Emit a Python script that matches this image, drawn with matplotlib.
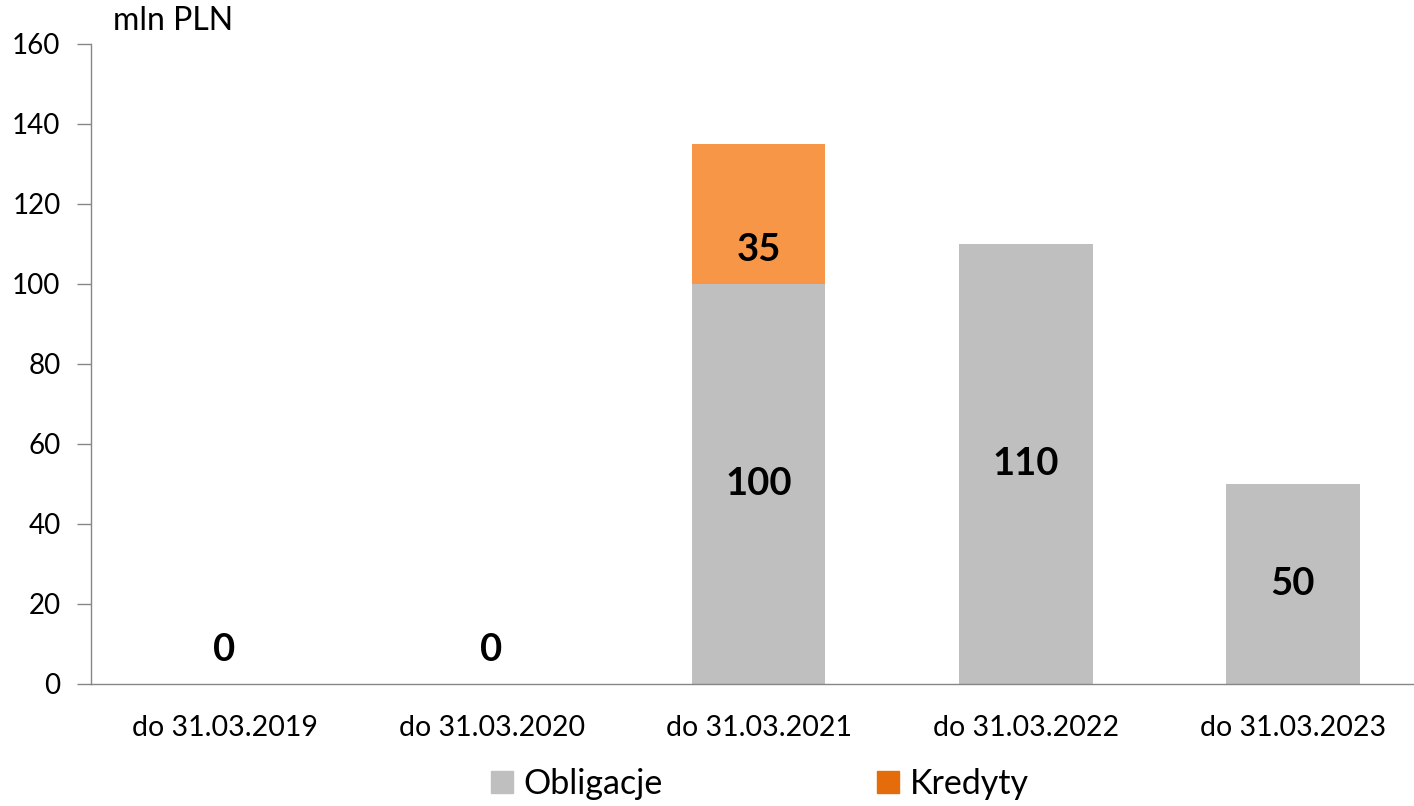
import matplotlib
matplotlib.use("Agg")
import matplotlib.pyplot as plt
from matplotlib.patches import Patch

categories = ["do 31.03.2019", "do 31.03.2020", "do 31.03.2021", "do 31.03.2022", "do 31.03.2023"]
obligacje = [0, 0, 100, 110, 50]
kredyty = [0, 0, 35, 0, 0]
yticks = [0, 20, 40, 60, 80, 100, 120, 140, 160]

GRAY = "#BFBFBF"
ORANGE_BAR = "#F79646"
ORANGE_LEG = "#E46C0A"
AXIS = "#868686"
FONT = "Lato"

plt.rcParams["font.family"] = [FONT, "DejaVu Sans"]

fig = plt.figure(figsize=(14.14, 8.06), dpi=100)
ax = fig.add_axes([91/1414, 1 - 684/806, (1413-91)/1414, (684-44)/806])

x = list(range(len(categories)))
w = 0.5
ax.bar(x, obligacje, width=w, color=GRAY, zorder=2)
ax.bar(x, kredyty, width=w, bottom=obligacje, color=ORANGE_BAR, zorder=2)

LBL = 27.5
for xi, o, k in zip(x, obligacje, kredyty):
    if o > 0:
        ax.text(xi, o / 2, f"{o}", ha="center", va="center", fontsize=LBL, fontweight="bold", zorder=3)
    elif k == 0:
        ax.text(xi, 8.5, f"{o}", ha="center", va="center", fontsize=LBL, fontweight="bold", zorder=3)
    if k > 0:
        ax.text(xi, o + 8.5, f"{k}", ha="center", va="center", fontsize=LBL, fontweight="bold", zorder=3)

ax.set_xlim(-0.5, 4.45)
ax.set_ylim(0, 160)
ax.set_yticks(yticks)
ax.set_yticklabels([str(t) for t in yticks], fontsize=20)
ax.set_xticks(x)
ax.set_xticklabels(categories, fontsize=20.5)
ax.tick_params(axis="x", length=0, pad=22)
ax.tick_params(axis="y", length=10, width=1, color=AXIS, pad=12, direction="out")
for s in ["top", "right"]:
    ax.spines[s].set_visible(False)
for s in ["left", "bottom"]:
    ax.spines[s].set_color(AXIS)
    ax.spines[s].set_linewidth(1)

fig.text(113/1414, 1 - 21/806, "mln PLN", fontsize=23, ha="left", va="center")

handles = [Patch(color=GRAY, label="Obligacje"), Patch(color=ORANGE_LEG, label="Kredyty")]
leg = fig.legend(handles=handles, loc="center", bbox_to_anchor=(760/1414, 1 - 784/806),
                 ncol=2, frameon=False, fontsize=24.5, handlelength=0.65, handleheight=0.65,
                 handletextpad=0.3, columnspacing=6.3)

fig.savefig("out.png", dpi=100)
